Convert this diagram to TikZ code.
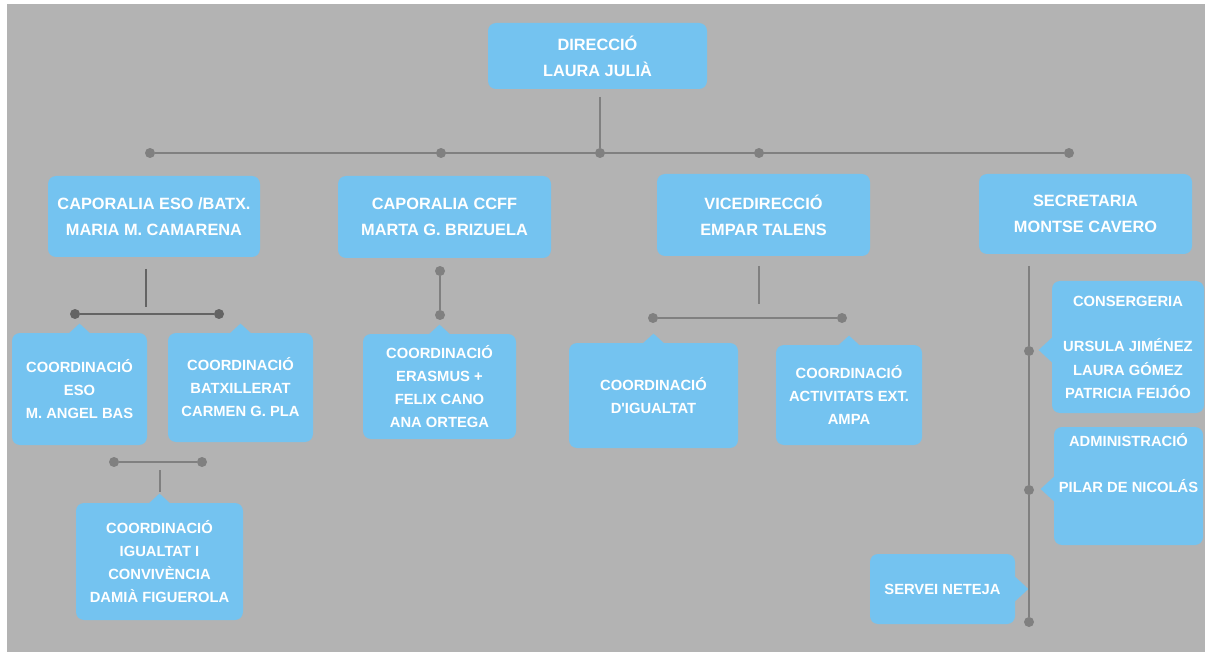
\documentclass[tikz,border=0pt]{standalone}
\usepackage{fontspec}
\setmainfont{Liberation Sans}
\usetikzlibrary{calc}

\definecolor{bggray}{HTML}{B3B3B3}
\definecolor{boxblue}{HTML}{74C3F0}
\definecolor{linegray}{HTML}{808080}
\definecolor{darkline}{HTML}{646464}

\tikzset{
	box/.style={fill=boxblue, rounded corners=0.16cm, text=white, align=center, inner sep=0pt,
		font=\bfseries\fontsize{8.4}{13.1}\selectfont},
	bigbox/.style={box, font=\bfseries\fontsize{9.3}{14.8}\selectfont},
	boxsize/.style 2 args={minimum width=#1*0.02cm, minimum height=#2*0.02cm},
	dot/.style={circle, fill=#1, inner sep=0pt, minimum size=0.2cm},
	dot/.default=linegray,
	link/.style={draw=linegray, line width=1.6pt},
}

\begin{document}
\begin{tikzpicture}[x=0.02cm, y=-0.02cm]
	\fill[bggray] (7,4) rectangle (1205,652);
	\useasboundingbox (0,0) rectangle (1205,652);

	% first two levels
	\node[bigbox, boxsize={219}{66}] (dir) at (597.5,56) {DIRECCIÓ\\LAURA JULIÀ};
	\node[bigbox, boxsize={212}{81}] (capeso) at (154,216.5) {CAPORALIA ESO /BATX.\\MARIA M. CAMARENA};
	\node[bigbox, boxsize={213}{82}] (capccff) at (444.5,217) {CAPORALIA CCFF\\MARTA G. BRIZUELA};
	\node[bigbox, boxsize={213}{82}] (vice) at (763.5,215) {VICEDIRECCIÓ\\EMPAR TALENS};
	\node[bigbox, boxsize={213}{80}] (secr) at (1085.5,214) {SECRETARIA\\MONTSE CAVERO};

	% coordinations
	\node[box, boxsize={135}{112}] (coeso) at (79.5,389) {COORDINACIÓ\\ESO\\M. ANGEL BAS};
	\node[box, boxsize={145}{109}] (cobatx) at (240.5,387.5) {COORDINACIÓ\\BATXILLERAT\\CARMEN G. PLA};
	\node[box, boxsize={167}{117}] (coigc) at (159.5,561.5) {COORDINACIÓ\\IGUALTAT I\\CONVIVÈNCIA\\DAMIÀ FIGUEROLA};
	\node[box, boxsize={153}{105}] (coeras) at (439.5,386.5) {COORDINACIÓ\\ERASMUS +\\FELIX CANO\\ANA ORTEGA};
	\node[box, boxsize={169}{105}] (coigu) at (653.5,395.5) {COORDINACIÓ\\D\textquotesingle IGUALTAT};
	\node[box, boxsize={146}{100}] (coact) at (849,395) {COORDINACIÓ\\ACTIVITATS EXT.\\AMPA};

	% secretaria staff
	\node[box, boxsize={152}{132}] (consg) at (1128,347) {CONSERGERIA\\[13pt]URSULA JIMÉNEZ\\LAURA GÓMEZ\\PATRICIA FEIJÓO};
	\node[box, boxsize={149}{118}] (admin) at (1128.5,486) {ADMINISTRACIÓ\\[13pt]PILAR DE NICOLÁS\\[13pt]~};
	\node[box, boxsize={145}{70}] (servei) at (942.5,589) {SERVEI NETEJA};

	\foreach \nm in {coeso,cobatx,coigc,coeras,coigu,coact}
		\fill[boxblue] ($(\nm.north)+(-11,1)$) -- ++(11,-10) -- ++(11,10) -- cycle;
	\foreach \nm in {consg,admin}
		\fill[boxblue] ($(\nm.west)+(1,-10)$) -- ++(-14,13) -- ++(14,13) -- cycle;
	\fill[boxblue] ($(servei.east)+(-1,-13)$) -- ++(14,13) -- ++(-14,13) -- cycle;

	% main bar
	\coordinate (dirstem) at (600,97);
	\foreach \x/\nm in {150/a,441/b,600/c,759/d,1069/e}
		\node[dot] (top-\nm) at (\x,153) {};
	\draw[link] (dirstem) -- (top-c);
	\draw[link] (top-a) -- (top-e);

	% eso / batx
	\coordinate (esostem) at (146,269);
	\coordinate (esojoin) at (146,307);
	\node[dot=darkline] (eso-l) at (75,314) {};
	\node[dot=darkline] (eso-r) at (219,314) {};
	\draw[link, draw=darkline] (esostem) -- (esojoin);
	\draw[link, draw=darkline] (eso-l) -- (eso-r);

	\node[dot] (igc-l) at (114,462) {};
	\node[dot] (igc-r) at (202,462) {};
	\coordinate (igcstem) at (160,470);
	\coordinate (igcfoot) at (160,492);
	\draw[link] (igc-l) -- (igc-r);
	\draw[link] (igcstem) -- (igcfoot);

	% ccff
	\node[dot] (ccff-t) at (440,271) {};
	\node[dot] (ccff-b) at (440,315) {};
	\draw[link] (ccff-t) -- (ccff-b);

	% vicedireccio
	\coordinate (vicestem) at (759,266);
	\coordinate (vicejoin) at (759,304);
	\node[dot] (vice-l) at (653,318) {};
	\node[dot] (vice-r) at (842,318) {};
	\draw[link] (vicestem) -- (vicejoin);
	\draw[link] (vice-l) -- (vice-r);

	% secretaria
	\coordinate (secstem) at (1029,266);
	\foreach \y/\nm in {351/a,490/b,622/c}
		\node[dot] (sec-\nm) at (1029,\y) {};
	\draw[link] (secstem) -- (sec-a) -- (sec-b) -- (sec-c);
\end{tikzpicture}
\end{document}
